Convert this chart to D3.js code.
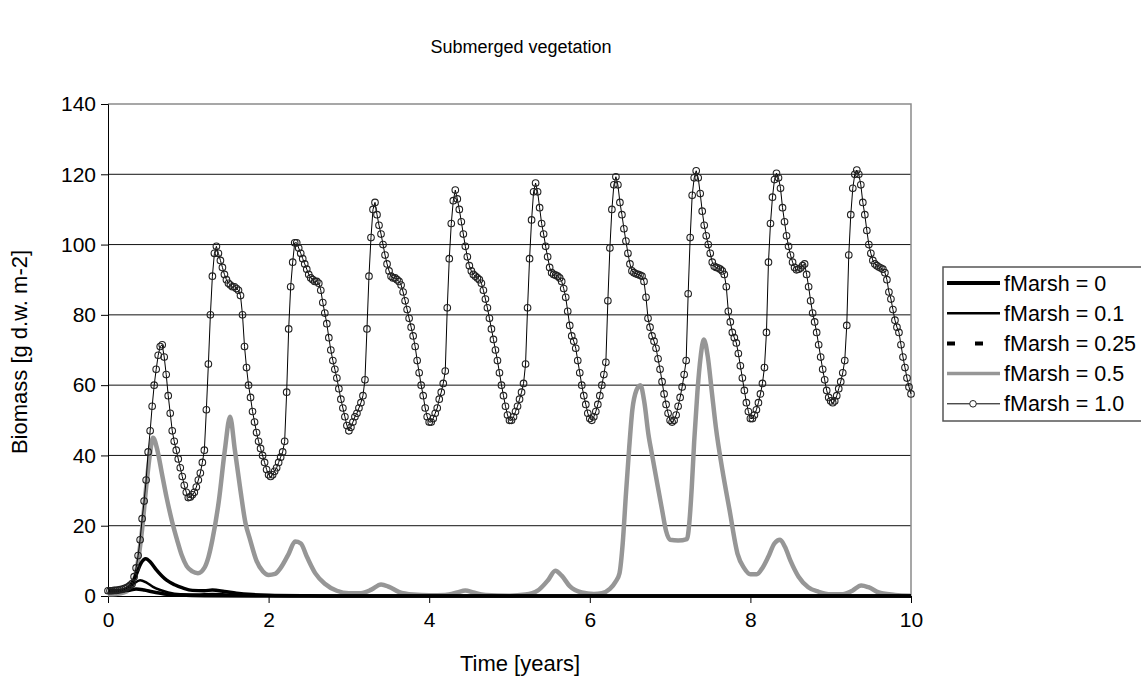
<!DOCTYPE html>
<html>
<head>
<meta charset="utf-8">
<script src="https://cdn.jsdelivr.net/npm/d3@7"></script>
<style>
  body { margin: 0; background: #fff; }
  svg { display: block; font-family: "Liberation Sans", Arial, sans-serif; }
</style>
</head>
<body>
<div id="chart"></div>
<script>
// fMarsh = 1.0, one value every 0.025 years from 0 to 10
const marsh10Step = 0.025;
const marsh10 = [
  1.5,1.5,1.5,1.6,1.6,1.7,1.8,1.9,2.1,2.3,
  2.6,3.0,3.5,5.5,8,11.5,16,22,27,33,
  41,47,54,60,64.5,68.5,71,71.5,68,63,
  57,52,47,44,41.5,39,36.5,34,31.5,29.5,
  28,28.2,28.8,29.5,31,33,35,38,41.5,53,
  66,80,91,97.5,99.5,97.5,95.5,93.5,91.5,90,
  89,88.5,88,88,87.5,87,85.5,80,71,65,
  60,56.5,52.5,49.5,46.5,44,42,40,38,36,
  34.5,34,34.5,35.5,36.5,38,39.5,41,44,58,
  76,88,95,100.5,100.5,99,97.5,96,94.5,93,
  91.5,90.5,90,89.5,89.5,89,87,83.5,80.5,77.5,
  73.5,70,67,64.5,62,59,56,53.5,51,48.5,
  47,48,49.5,51,52,53.5,55,57,61.5,76,
  91,102,110,112,108.5,105.5,103,100,97,94.5,
  92.5,91,90.5,90.5,90,89.5,88.5,86.5,84,81.5,
  79,76.5,74,71,67,63.5,60,57,53.5,51,
  49.5,49.5,50.5,52,53.5,56,58,60.5,64,82,
  96,106,112.5,115.5,113,110,106.5,103,99.5,96.5,
  94,92.5,91.5,91,90.5,90,89,87,84.5,82,
  79,76,73,70,67,63.5,60,57,54,51.5,
  50,50,51,52.5,54,56,58,60.5,66,82,
  96,107,115,117.5,115,110.5,106,103,99.5,96.5,
  93.5,92,91.5,91.3,91,90.5,89.5,87.5,85,81,
  77,74,72.5,70.5,67,63.5,60,57,54.5,52,
  50.5,50,51,52.5,54.5,57,60,63,66.5,84,
  99,110,117,119.3,117,112,108.5,104.5,101,97.5,
  94.5,92.5,92,91.7,91.5,91.3,91,89.5,85,79,
  76.5,74,72.5,70.5,67.5,64.5,61,57.5,54.5,52,
  50,49.5,50,51.5,54,56.5,59.5,63,67,86,
  102,114,119,121,119,114.5,109.5,105.5,102.5,100,
  97.5,95,93.8,93.5,93.3,93,92.5,91.5,88,81,
  78,75,73.5,72,69,65.5,62,58.5,55,52.5,
  50.5,50.5,51.5,53,55,57.5,60.5,65,75,95,
  106,113.5,118.5,120.3,119,116,110.5,106.5,102.5,99.5,
  97,95,93.5,92.8,93,93.3,94,94.5,91.5,88,
  84,80.5,78,75,71.5,68,64.5,61.5,58.5,56.5,
  55.5,55,55.5,57,59,61,63.5,67,77,97,
  108.5,116,120,121.2,120,117,112,108.5,104,100,
  97.5,95.5,94.5,94,93.6,93.3,93,92,90,86.5,
  84.5,81.5,78.5,76.5,75,71.5,68,65,62,59.5,
  57.5
];

// [year, biomass]
const marsh05 = [
  [0,0.5],[0.1,0.6],[0.2,1],[0.26,1.8],[0.3,3],[0.36,8],[0.42,18],[0.48,32],[0.52,40],[0.56,45],
  [0.62,41],[0.67,35],[0.73,28],[0.8,21],[0.86,16],[0.92,11.5],[0.98,8.5],[1.05,7],[1.12,6.5],
  [1.2,8],[1.25,11],[1.3,16],[1.38,27],[1.455,41.5],[1.52,51],[1.58,41.5],[1.65,30],[1.71,21],
  [1.77,16],[1.85,10],[1.93,7],[2.0,6],[2.08,6.3],[2.15,8],[2.25,12],[2.33,15.5],[2.4,15],
  [2.48,11],[2.58,6.5],[2.7,3.5],[2.85,1.5],[3.0,0.8],[3.15,0.8],[3.28,1.8],[3.4,3.3],[3.5,2.6],
  [3.62,1.2],[3.8,0.4],[4.0,0.2],[4.2,0.3],[4.35,1.0],[4.45,1.6],[4.55,1.0],[4.7,0.3],[5.0,0.1],
  [5.2,0.4],[5.35,1.5],[5.48,4.5],[5.57,7.2],[5.65,5.8],[5.75,2.8],[5.9,1],[6.05,0.6],[6.15,0.8],
  [6.25,2],[6.32,4],[6.37,6.5],[6.41,15],[6.45,29],[6.49,42],[6.53,53],[6.58,58.5],[6.63,60],
  [6.68,55],[6.73,46],[6.78,39.6],[6.84,32],[6.9,24.5],[6.95,18.5],[7.0,16],[7.1,15.8],[7.21,16.2],
  [7.24,21],[7.27,31],[7.3,44],[7.34,58],[7.38,68],[7.42,73],[7.47,68],[7.52,58],[7.57,48],
  [7.65,36],[7.74,24.5],[7.84,12],[7.92,8],[8.0,6.2],[8.08,6.2],[8.15,8],[8.22,11],[8.3,15],
  [8.37,16],[8.43,14],[8.5,10],[8.6,5.5],[8.72,2.5],[8.85,1.2],[9.0,0.5],[9.15,0.5],[9.27,1.5],
  [9.38,3],[9.47,2.5],[9.6,1],[9.8,0.3],[10,0.1]
];
const marsh025 = [
  [0,1.5],[0.1,1.5],[0.2,1.8],[0.28,3],[0.35,6],[0.41,9.3],[0.47,10.6],[0.53,9.6],[0.6,7.5],
  [0.73,4.5],[0.83,3.2],[0.93,2.3],[1.05,1.6],[1.2,1.5],[1.3,1.7],[1.45,1.3],[1.6,0.8],[1.8,0.4],
  [2.0,0.2],[2.5,0.05],[3,0],[10,0]
];
const marsh01 = [
  [0,1.5],[0.15,1.5],[0.25,2.2],[0.32,3.5],[0.4,4.5],[0.48,3.8],[0.56,2.6],[0.65,1.7],[0.75,1],
  [0.9,0.5],[1.1,0.4],[1.3,0.6],[1.5,0.4],[2,0.1],[3,0],[10,0]
];
const marsh0 = [
  [0,1.5],[0.15,1.4],[0.25,1.6],[0.35,2],[0.45,1.7],[0.55,1.2],[0.7,0.6],[0.9,0.3],[1.2,0.1],
  [2,0],[10,0]
];

const xTicks = [0, 2, 4, 6, 8, 10];
const yTicks = [0, 20, 40, 60, 80, 100, 120, 140];
const legendLabels = ["fMarsh = 0", "fMarsh = 0.1", "fMarsh = 0.25", "fMarsh = 0.5", "fMarsh = 1.0"];

const W = 1141, H = 686;
const plotL = 108, plotR = 911, plotT = 104, plotB = 596;

const svg = d3.select("#chart").append("svg").attr("width", W).attr("height", H);

const x = d3.scaleLinear().domain([0, 10]).range([plotL, plotR]);
const y = d3.scaleLinear().domain([0, 140]).range([plotB, plotT]);

// grid
svg.append("g").selectAll("line")
  .data(yTicks.filter(d => d > 0 && d < 140))
  .enter().append("line")
    .attr("x1", plotL).attr("x2", plotR)
    .attr("y1", d => y(d)).attr("y2", d => y(d))
    .attr("stroke", "#111").attr("stroke-width", 1);

// plot frame (top and right)
svg.append("path")
  .attr("d", `M${plotL},${plotT}H${plotR}V${plotB}`)
  .attr("fill", "none").attr("stroke", "#8a8a8a").attr("stroke-width", 1.5);

// axes
const yAxis = svg.append("g").attr("transform", `translate(${plotL},0)`)
  .call(d3.axisLeft(y).tickValues(yTicks).tickSize(7).tickPadding(5).tickFormat(d3.format("d")));
const xAxis = svg.append("g").attr("transform", `translate(0,${plotB})`)
  .call(d3.axisBottom(x).tickValues(xTicks).tickSize(7).tickPadding(9).tickFormat(d3.format("d")));
[yAxis, xAxis].forEach(g => {
  g.select(".domain").attr("stroke", "#000");
  g.selectAll(".tick line").attr("stroke", "#000");
  g.selectAll(".tick text").attr("fill", "#000").style("font-size", "21px")
    .style("font-family", "'Liberation Sans', Arial, sans-serif");
});

const line = d3.line().x(d => x(d[0])).y(d => y(d[1])).curve(d3.curveMonotoneX);

svg.append("path").datum(marsh05).attr("d", line)
  .attr("fill", "none").attr("stroke", "#969696").attr("stroke-width", 4.5);
svg.append("path").datum(marsh0).attr("d", line)
  .attr("fill", "none").attr("stroke", "#000").attr("stroke-width", 3.5);
svg.append("path").datum(marsh01).attr("d", line)
  .attr("fill", "none").attr("stroke", "#000").attr("stroke-width", 2.5);
svg.append("path").datum(marsh025).attr("d", line)
  .attr("fill", "none").attr("stroke", "#000").attr("stroke-width", 3.5);

const pts10 = marsh10.map((v, i) => [i * marsh10Step, v]);
svg.append("path").datum(pts10)
  .attr("d", d3.line().x(d => x(d[0])).y(d => y(d[1])))
  .attr("fill", "none").attr("stroke", "#000").attr("stroke-width", 1);
svg.append("g").selectAll("circle")
  .data(pts10)
  .enter().append("circle")
    .attr("cx", d => x(d[0])).attr("cy", d => y(d[1])).attr("r", 3.3)
    .attr("fill", "none").attr("stroke", "#222").attr("stroke-width", 1.1);

// titles
svg.append("text").attr("x", 521).attr("y", 53).attr("text-anchor", "middle")
  .style("font-size", "18px").text("Submerged vegetation");
svg.append("text").attr("x", 520).attr("y", 671).attr("text-anchor", "middle")
  .style("font-size", "22px").text("Time [years]");
svg.append("text").attr("transform", `translate(27,352) rotate(-90)`)
  .attr("text-anchor", "middle").style("font-size", "22px").text("Biomass [g d.w. m-2]");

// legend
const lg = svg.append("g");
lg.append("rect").attr("x", 943).attr("y", 267).attr("width", 210).attr("height", 154)
  .attr("fill", "#fff").attr("stroke", "#555").attr("stroke-width", 1.5);
const legendStyles = [
  { stroke: "#000", width: 4, dash: null },
  { stroke: "#000", width: 2.5, dash: null },
  { stroke: "#000", width: 4, dash: "8,20" },
  { stroke: "#969696", width: 3.5, dash: null },
  { stroke: "#000", width: 1, dash: null, marker: true }
];
legendLabels.forEach((label, i) => {
  const cy = 283 + i * 30.2;
  const s = legendStyles[i];
  lg.append("line").attr("x1", 947).attr("x2", 1000).attr("y1", cy).attr("y2", cy)
    .attr("stroke", s.stroke).attr("stroke-width", s.width).attr("stroke-dasharray", s.dash);
  if (s.marker) {
    lg.append("circle").attr("cx", 973).attr("cy", cy).attr("r", 3.3)
      .attr("fill", "#fff").attr("stroke", "#222");
  }
  lg.append("text").attr("x", 1004).attr("y", cy + 7.5).style("font-size", "21.5px").text(label);
});
</script>
</body>
</html>
